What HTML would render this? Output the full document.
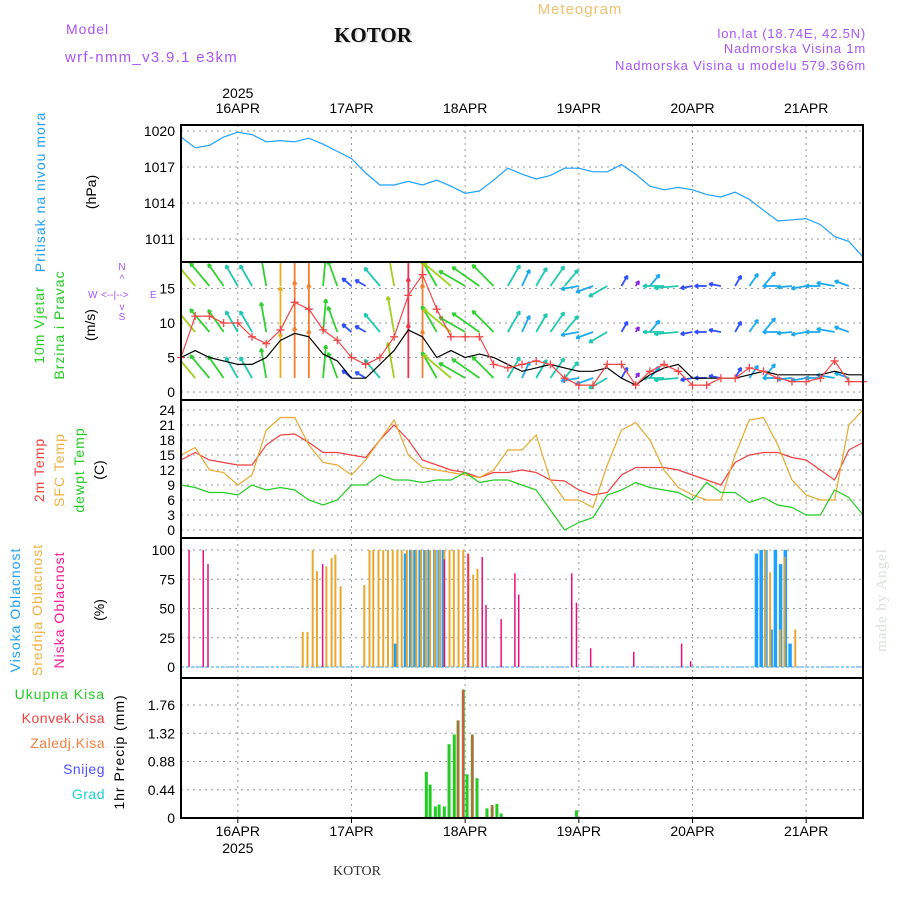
<!DOCTYPE html>
<html><head><meta charset="utf-8"><style>
html,body{margin:0;padding:0;background:#fff;}
svg{display:block;font-family:"Liberation Sans","DejaVu Sans",sans-serif;}
</style></head><body>
<svg id="chart" width="900" height="900" viewBox="0 0 900 900" xmlns="http://www.w3.org/2000/svg">
<g>
<text x="580" y="14" font-size="15" fill="#f0c070" text-anchor="middle" letter-spacing="1">Meteogram</text>
<text x="66" y="34" font-size="14" fill="#a855f7" letter-spacing="1">Model</text>
<text x="65" y="62" font-size="15" fill="#a855f7" letter-spacing="1.3">wrf-nmm_v3.9.1 e3km</text>
<text x="375" y="43" font-size="21" font-weight="bold" fill="#ddd" text-anchor="middle" font-family="Liberation Serif, serif">KOTOR</text>
<text x="373" y="42" font-size="21" font-weight="bold" fill="#111" text-anchor="middle" font-family="Liberation Serif, serif">KOTOR</text>
<text x="866" y="38" font-size="13" fill="#a855f7" text-anchor="end" letter-spacing="0.8">lon,lat (18.74E, 42.5N)</text>
<text x="866" y="53" font-size="13" fill="#a855f7" text-anchor="end" letter-spacing="0.8">Nadmorska Visina 1m</text>
<text x="866" y="70" font-size="13" fill="#a855f7" text-anchor="end" letter-spacing="0.8">Nadmorska Visina u modelu 579.366m</text>
</g>
<g id="grid"></g>
<g id="marks"></g>
<g id="frames"></g>
<g id="labels"></g>
<g font-size="14">
<text transform="translate(45,192) rotate(-90)" text-anchor="middle" fill="#1ea0ff" letter-spacing="1">Pritisak na nivou mora</text>
<text transform="translate(96,192) rotate(-90)" text-anchor="middle" fill="#000">(hPa)</text>
<text transform="translate(44,325) rotate(-90)" text-anchor="middle" fill="#22cc22" letter-spacing="1">10m Vjetar</text>
<text transform="translate(64,325) rotate(-90)" text-anchor="middle" fill="#22cc22" letter-spacing="1">Brzina i Pravac</text>
<text transform="translate(95,325) rotate(-90)" text-anchor="middle" fill="#000">(m/s)</text>
<g fill="#a855f7" font-size="10">
<text x="122" y="270" text-anchor="middle">N</text><text x="122" y="282" text-anchor="middle">^</text>
<text x="88" y="298">W</text><text x="101" y="298">&lt;--|--&gt;</text><text x="150" y="298">E</text>
<text x="122" y="310" text-anchor="middle">v</text><text x="122" y="320" text-anchor="middle">S</text>
</g>
<text transform="translate(44,470) rotate(-90)" text-anchor="middle" fill="#f04040" letter-spacing="1">2m Temp</text>
<text transform="translate(64,470) rotate(-90)" text-anchor="middle" fill="#f0b040" letter-spacing="1">SFC Temp</text>
<text transform="translate(84,470) rotate(-90)" text-anchor="middle" fill="#22cc22" letter-spacing="1">dewpt Temp</text>
<text transform="translate(104,470) rotate(-90)" text-anchor="middle" fill="#000">(C)</text>
<text transform="translate(20,610) rotate(-90)" text-anchor="middle" fill="#1ea0ff" letter-spacing="1">Visoka Oblacnost</text>
<text transform="translate(42,610) rotate(-90)" text-anchor="middle" fill="#f0b040" letter-spacing="1">Srednja Oblacnost</text>
<text transform="translate(64,610) rotate(-90)" text-anchor="middle" fill="#ff1493" letter-spacing="1">Niska Oblacnost</text>
<text transform="translate(104,610) rotate(-90)" text-anchor="middle" fill="#000">(%)</text>
<text x="105" y="699" text-anchor="end" fill="#22cc22" letter-spacing="1">Ukupna Kisa</text>
<text x="105" y="723" text-anchor="end" fill="#f04040" letter-spacing="0.5">Konvek.Kisa</text>
<text x="105" y="748" text-anchor="end" fill="#f08040" letter-spacing="0.5">Zaledj.Kisa</text>
<text x="105" y="774" text-anchor="end" fill="#5050ff" letter-spacing="0.5">Snijeg</text>
<text x="105" y="799" text-anchor="end" fill="#20d0d0" letter-spacing="0.5">Grad</text>
<text transform="translate(124,752) rotate(-90)" text-anchor="middle" fill="#000" letter-spacing="1">1hr Precip (mm)</text>
<text transform="translate(886,600) rotate(-90)" text-anchor="middle" fill="#d8e0d8" font-size="15" font-family="Liberation Serif, serif" letter-spacing="1">made by Angel</text>
<text x="357" y="875" text-anchor="middle" fill="#333" font-size="14" font-family="Liberation Serif, serif">KOTOR</text>
</g>
</svg>
<script>
const hours=[0,3,6,9,12,15,18,21,24,27,30,33,36,39,42,45,48,51,54,57,60,63,66,69,72,75,78,81,84,87,90,93,96,99,102,105,108,111,114,117,120,123,126,129,132,135,138,141,144];
const dayLabels=["16APR","17APR","18APR","19APR","20APR","21APR"];
const dayHours=[12,36,60,84,108,132];
const pressure=[1019.5,1018.6,1018.8,1019.5,1019.9,1019.7,1019.1,1019.2,1019.1,1019.4,1018.9,1018.3,1017.7,1016.5,1015.5,1015.5,1015.8,1015.5,1015.9,1015.4,1014.8,1015.0,1015.9,1016.9,1016.4,1016.0,1016.3,1016.9,1016.9,1016.6,1016.6,1017.2,1016.4,1015.4,1015.1,1015.3,1015.1,1014.7,1014.5,1014.9,1014.3,1013.4,1012.5,1012.6,1012.7,1012.2,1011.2,1010.8,1009.5];
const pressureTicks=[1011,1014,1017,1020];
const windSpeed=[5,6,5,4.5,4,4,5,7.5,8.5,8,5.5,4.5,2,2,4,6,9,8,5,6,5,5.5,5,4,3,3.5,4,3.5,3,3,3.5,2,1,2.5,3.5,4,2,2,2,2,2.5,3,2.5,2.5,2.5,2.5,3,2.5,2.5];
const windGust=[5,11,11,10,10,8,7,9,13,12,9,7.5,5,4,5,8,14,17,12,8,8,8,4,3.5,4,4.5,4,2,1,1,4,4,1,3,4,3,1,1,2,2,3.5,3,2,1.5,1.5,2,4.5,1.5,1.5];
const windDir=[-35,-40,-40,-35,-30,-30,-10,0,0,0,5,-20,-50,-60,-40,-10,0,0,-30,-50,-60,-55,-45,30,25,30,35,40,-100,-110,-120,30,35,40,-90,-95,-100,-90,-80,30,35,40,-90,-95,-100,-90,-80,-70,30];
const windTicks=[0,5,10,15];
const temp2m=[14,15.5,14,13.5,13,13,17,19,19.2,17.5,15.5,15.5,15,14.5,18,21,18,14,13,12,11.5,10.5,11.5,11.5,12,11.5,10,9.8,8,7,7.5,11,12.5,12.5,12.5,12,11,10,9,13.5,15,15.5,15.5,14.5,14,12,10,16,17.5];
const tempSfc=[15,16.5,12,11.5,9,11,20,22.5,22.5,17,13.5,13,11,14,18,22,15,12.5,12,11.5,11,10.5,12,16,16,19,10,6,6,4.5,13,20,21.5,18,12,8.5,7,6,6,15,22,22.5,17,10,7,6,6,21,24];
const dewpt=[9,8.5,7.5,7.5,7,9,8,8.5,8,6,5,6,9,9,11,10,10,9.5,10,10,11.5,9.5,10,10,9,8,4,0,1.5,2.5,7,8,9.5,8.5,8,7.5,6,9.5,7.5,7.5,5.5,6.5,5,4.5,3,3,8,6.5,3];
const tempTicks=[0,3,6,9,12,15,18,21,24];
const lowCloudHours=[1.7,4.7,5.7,29.9,55.6,60.6,63.6,64.4,67.6,70.5,71.3,82.5,83.5,86.5,95.6,105.7,107.6];
const lowCloud=[100,100,88,88,92,97,94,53,41,80,62,80,55,16,13,20,5];
const midCloudHours=[25.7,26.7,27.8,28.7,30.7,31.8,32.6,33.7,38.7,39.8,40.6,41.7,42.7,43.7,44.7,45.7,46.6,47.7,48.7,49.7,50.7,51.7,52.6,53.6,54.6,55.6,56.7,57.6,58.6,59.6,60.7,61.7,62.6,123.4,124.4,126.5,127.4,129.7];
const midCloud=[30,30,100,82,86,93,96,69,70,100,100,100,100,100,100,100,100,100,100,100,100,100,100,100,100,100,100,100,100,100,96,79,84,100,81,32,94,32];
const highCloudHours=[45.3,47.4,48.5,49.4,50.5,51.5,52.4,53.6,54.5,55.4,121.5,122.5,123.5,124.6,125.5,126.6,127.6,128.6];
const highCloud=[20,97,100,100,100,100,100,100,100,100,97,100,100,32,100,88,100,20];
const cloudTicks=[0,25,50,75,100];
const precipHours=[51.8,52.6,53.7,54.5,55.6,56.6,57.7,58.5,59.6,60.4,61.5,62.5,64.6,65.7,66.7,67.6,83.5];
const precipTotal=[0.72,0.52,0.18,0.21,0.18,1.15,1.3,1.52,2.0,0.68,1.3,0.62,0.15,0.2,0.22,0.07,0.12];
const precipConv=[0,0,0,0,0,0,0,1.52,2.0,0,1.3,0,0,0.2,0,0,0];
const precipTicks=[0,0.44,0.88,1.32,1.76];

const NS="http://www.w3.org/2000/svg";
const X0=181,X1=863;
const xs=h=>X0+(h/144)*(X1-X0);
const panels={
 p:{top:125,bot:262,y:v=>131+(1020-v)*(36/3)},
 w:{top:262,bot:400,y:v=>392-v*6.9},
 t:{top:400,bot:538,y:v=>530-v*5},
 c:{top:538,bot:678,y:v=>667-v*1.17},
 r:{top:678,bot:818,y:v=>818-v*64.2}
};
function el(tag,attrs,parent){const e=document.createElementNS(NS,tag);for(const k in attrs)e.setAttribute(k,attrs[k]);parent.appendChild(e);return e;}
const grid=document.getElementById('grid'),marks=document.getElementById('marks'),frames=document.getElementById('frames'),labels=document.getElementById('labels');
const defs=el('defs',{},document.getElementById('chart'));
for(const k in panels){const c=el('clipPath',{id:'clip-'+k},defs);el('rect',{x:X0,y:panels[k].top,width:X1-X0,height:panels[k].bot-panels[k].top},c);}
for(const k in panels){const P=panels[k];
 dayHours.forEach(h=>{const g=el('line',{x1:xs(h),x2:xs(h),y1:P.top,y2:P.bot,stroke:'#999','stroke-dasharray':'2,4'},grid);
  
  });
}
function yAxis(P,ticks,fmt,name){
 ticks.forEach(v=>{const y=P.y(v);
  const g=el('line',{x1:X0,x2:X1,y1:y,y2:y,stroke:'#999','stroke-dasharray':'2,4'},grid);
  
  
  const t=el('text',{x:175,y:y+5,'text-anchor':'end','font-size':'14',fill:'#000'},labels);t.textContent=fmt(v);
  
  
 });
}
yAxis(panels.p,pressureTicks,v=>v,'pressure');
yAxis(panels.w,windTicks,v=>v,'wind');
yAxis(panels.t,tempTicks,v=>v,'temp');
yAxis(panels.c,cloudTicks,v=>v,'cloud');
yAxis(panels.r,precipTicks,v=>v===0?'0':v.toFixed(2),'precip');
for(const k in panels){const P=panels[k];const r=el('rect',{x:X0,y:P.top,width:X1-X0,height:P.bot-P.top,fill:'none',stroke:'#000','stroke-width':2},frames);
 
 }
dayLabels.forEach((d,i)=>{const x=xs(dayHours[i]);
 const a=el('text',{x:x,y:113,'text-anchor':'middle','font-size':'14',fill:'#000'},labels);a.textContent=d;
 
 
 const b=el('text',{x:x,y:836,'text-anchor':'middle','font-size':'14',fill:'#000'},labels);b.textContent=d;
 
 
 const tk=el('line',{x1:x,x2:x,y1:818,y2:823,stroke:'#000'},labels);
 
 
});
const y1=el('text',{x:xs(dayHours[0]),y:98,'text-anchor':'middle','font-size':'14'},labels);y1.textContent='2025';


const y2=el('text',{x:xs(dayHours[0]),y:853,'text-anchor':'middle','font-size':'14'},labels);y2.textContent='2025';



function line(P,vals,color,name,clip){
 const pts=vals.map((v,i)=>xs(hours[i]).toFixed(1)+','+P.y(v).toFixed(1)).join(' ');
 const l=el('polyline',{points:pts,fill:'none',stroke:color,'stroke-width':1.2,'clip-path':'url(#clip-'+clip+')'},marks);
 
 
}
line(panels.p,pressure,'#1ea0ff','pressure-line','p');
function spdColor(s){if(s<1.5)return'#8a2be2';if(s<2.5)return'#3050ff';if(s<3.5)return'#1eaaf0';if(s<4.5)return'#20c8b0';if(s<6)return'#30d030';if(s<7)return'#a0d020';if(s<8)return'#e8b020';if(s<9)return'#f08030';return'#f03050';}
const wg=el('g',{'clip-path':'url(#clip-w)'},marks);
[286,332,378].forEach(base=>{
 windSpeed.forEach((s,i)=>{const x=xs(hours[i]);const L=s*6;const a=windDir[i]*Math.PI/180;
  const ex=x+L*Math.sin(a),ey=base-L*Math.cos(a);const c=spdColor(s);
  const ar=el('g',{stroke:c,'stroke-width':1.8,fill:'none'},wg);
  
  
  el('line',{x1:x,y1:base,x2:ex,y2:ey},ar);
  const hl=4;[a+Math.PI*0.85,a-Math.PI*0.85].forEach(b=>{el('line',{x1:ex,y1:ey,x2:ex+hl*Math.sin(b),y2:ey-hl*Math.cos(b)},ar);});
 });
});
line(panels.w,windSpeed,'#000','wind-speed-line','w');
line(panels.w,windGust,'#f04848','wind-gust-line','w');
windGust.forEach((g,i)=>{const x=xs(hours[i]),y=panels.w.y(g);
 const c=el('path',{d:`M${x-4},${y}H${x+4}M${x},${y-4}V${y+4}`,stroke:'#f04848','stroke-width':1.3},marks);
 
 });
line(panels.t,temp2m,'#f04040','temp-2m-line','t');
line(panels.t,tempSfc,'#e8a830','temp-sfc-line','t');
line(panels.t,dewpt,'#22cc22','dewpoint-line','t');
const cb=el('line',{x1:X0,x2:X1,y1:panels.c.y(0),y2:panels.c.y(0),stroke:'#1ea0ff','stroke-width':1,'stroke-dasharray':'3,2'},marks);


function bars(P,hs,vals,color,w,name){hs.forEach((h,i)=>{const x=xs(h),y=P.y(vals[i]);
 const r=el('rect',{x:x-w/2,y:y,width:w,height:P.y(0)-y,fill:color},marks);
 
 });}
bars(panels.c,highCloudHours,highCloud,'#1ea0ff',3.5,'high-cloud-bar');
bars(panels.c,midCloudHours,midCloud,'#e8a830',2,'mid-cloud-bar');
bars(panels.c,lowCloudHours,lowCloud,'#e8107a',1.5,'low-cloud-bar');
const pb=el('line',{x1:X0,x2:X1,y1:818,y2:818,stroke:'#000','stroke-width':2,'stroke-dasharray':'4,2'},marks);


bars(panels.r,precipHours,precipTotal,'#22cc22',3,'precip-total-bar');
bars(panels.r,precipHours,precipConv,'#f04848',1.8,'precip-convective-bar');
</script>
</body></html>
